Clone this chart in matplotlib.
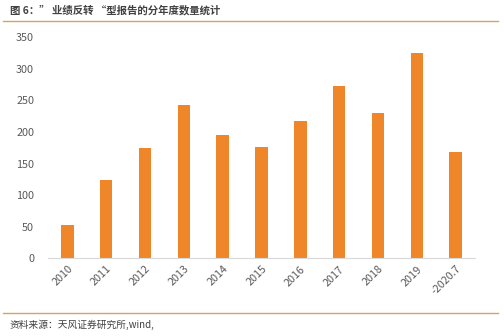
import matplotlib
matplotlib.use("Agg")
import matplotlib.pyplot as plt
from matplotlib.lines import Line2D

plt.rcParams['font.family'] = ['Noto Sans CJK SC', 'DejaVu Sans']

years = ['2010', '2011', '2012', '2013', '2014', '2015', '2016', '2017', '2018', '2019', '-2020.7']
counts = [53, 124, 175, 243, 195, 176, 218, 273, 230, 325, 168]
yticks = [0, 50, 100, 150, 200, 250, 300, 350]

title = '图 6：” 业绩反转 “型报告的分年度数量统计'
source = '资料来源：天风证券研究所,wind,'

fig = plt.figure(figsize=(5.04, 3.36), dpi=100)
ax = fig.add_axes([48/504, 1 - 258.3/336, 427/504, (258.3 - 37.3)/336])

x = range(len(years))
ax.bar(x, counts, width=0.32, color='#F0862A')
ax.set_xlim(-0.5, len(years) - 0.5)
ax.set_ylim(0, 350)
ax.set_yticks(yticks)
ax.set_xticks(list(x))
ax.set_xticklabels(years, rotation=45, ha='right', rotation_mode='anchor')
ax.tick_params(axis='both', length=0, labelsize=7.8, colors='#595959')
ax.tick_params(axis='y', pad=10)
ax.tick_params(axis='x', pad=4)
for s in ['top', 'right', 'left']:
    ax.spines[s].set_visible(False)
ax.spines['bottom'].set_color('#D9D9D9')
ax.spines['bottom'].set_linewidth(0.8)

fig.text(10/504, 1 - 10/336, title, fontsize=7.5, fontweight='bold', color='#404040',
         va='center', ha='left')
for yy in (21.3, 313):
    fig.add_artist(Line2D([3/504, 498/504], [1 - yy/336] * 2, color='#D9A35E', lw=1.0,
                          transform=fig.transFigure))
fig.text(10/504, 1 - 325/336, source, fontsize=7, color='#404040', va='center', ha='left')

fig.savefig('out.png', dpi=100)
